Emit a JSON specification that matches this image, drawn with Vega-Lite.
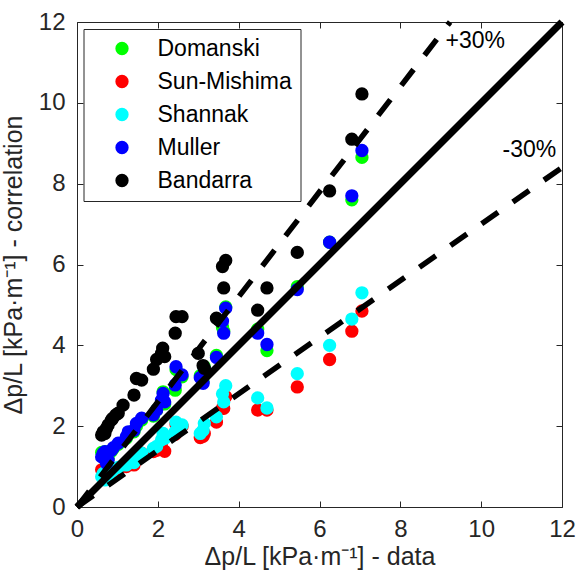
{
  "$schema": "https://vega.github.io/schema/vega-lite/v6.json",
  "width": 485,
  "height": 485,
  "autosize": "none",
  "padding": {"left": 77, "top": 22, "right": 25, "bottom": 67},
  "background": "white",
  "config": {"font": "Liberation Sans", "view": {"stroke": null}},
  "datasets": {
    "pts": [
      {"s":"Domanski","x":7.05,"y":8.65},{"s":"Domanski","x":6.8,"y":7.6},{"s":"Domanski","x":6.25,"y":6.55},{"s":"Domanski","x":5.45,"y":5.45},{"s":"Domanski","x":4.7,"y":3.87},{"s":"Domanski","x":4.47,"y":4.4},{"s":"Domanski","x":3.68,"y":4.95},{"s":"Domanski","x":3.6,"y":4.45},{"s":"Domanski","x":3.63,"y":4.35},{"s":"Domanski","x":3.45,"y":3.75},{"s":"Domanski","x":3.15,"y":3.47},{"s":"Domanski","x":3.05,"y":3.25},{"s":"Domanski","x":3.12,"y":3.1},{"s":"Domanski","x":2.45,"y":3.4},{"s":"Domanski","x":2.6,"y":3.22},{"s":"Domanski","x":2.43,"y":2.89},{"s":"Domanski","x":2.13,"y":2.85},{"s":"Domanski","x":2.09,"y":2.6},{"s":"Domanski","x":2.17,"y":2.55},{"s":"Domanski","x":1.97,"y":2.4},{"s":"Domanski","x":1.89,"y":2.25},{"s":"Domanski","x":1.6,"y":2.15},{"s":"Domanski","x":1.47,"y":2.0},{"s":"Domanski","x":1.41,"y":1.86},{"s":"Domanski","x":1.22,"y":1.7},{"s":"Domanski","x":1.27,"y":1.8},{"s":"Domanski","x":1.02,"y":1.55},{"s":"Domanski","x":0.9,"y":1.45},{"s":"Domanski","x":0.85,"y":1.38},{"s":"Domanski","x":0.77,"y":1.2},{"s":"Domanski","x":0.73,"y":1.1},{"s":"Domanski","x":0.65,"y":1.3},{"s":"Domanski","x":0.61,"y":1.35},{"s":"Domanski","x":0.69,"y":1.37},
      {"s":"Sun-Mishima","x":7.05,"y":4.85},{"s":"Sun-Mishima","x":6.8,"y":4.35},{"s":"Sun-Mishima","x":6.25,"y":3.65},{"s":"Sun-Mishima","x":5.45,"y":2.97},{"s":"Sun-Mishima","x":4.7,"y":2.4},{"s":"Sun-Mishima","x":4.47,"y":2.4},{"s":"Sun-Mishima","x":3.68,"y":2.73},{"s":"Sun-Mishima","x":3.6,"y":2.45},{"s":"Sun-Mishima","x":3.63,"y":2.44},{"s":"Sun-Mishima","x":3.45,"y":2.1},{"s":"Sun-Mishima","x":3.15,"y":1.82},{"s":"Sun-Mishima","x":3.05,"y":1.72},{"s":"Sun-Mishima","x":3.12,"y":1.75},{"s":"Sun-Mishima","x":2.45,"y":2.05},{"s":"Sun-Mishima","x":2.6,"y":2.0},{"s":"Sun-Mishima","x":2.43,"y":1.8},{"s":"Sun-Mishima","x":2.13,"y":1.7},{"s":"Sun-Mishima","x":2.09,"y":1.58},{"s":"Sun-Mishima","x":2.17,"y":1.38},{"s":"Sun-Mishima","x":1.97,"y":1.4},{"s":"Sun-Mishima","x":1.89,"y":1.37},{"s":"Sun-Mishima","x":1.6,"y":1.33},{"s":"Sun-Mishima","x":1.47,"y":1.16},{"s":"Sun-Mishima","x":1.41,"y":1.04},{"s":"Sun-Mishima","x":1.22,"y":1.0},{"s":"Sun-Mishima","x":1.27,"y":1.05},{"s":"Sun-Mishima","x":1.02,"y":0.95},{"s":"Sun-Mishima","x":0.9,"y":0.88},{"s":"Sun-Mishima","x":0.85,"y":0.85},{"s":"Sun-Mishima","x":0.77,"y":0.78},{"s":"Sun-Mishima","x":0.73,"y":0.77},{"s":"Sun-Mishima","x":0.65,"y":0.87},{"s":"Sun-Mishima","x":0.61,"y":0.92},{"s":"Sun-Mishima","x":0.69,"y":0.7},
      {"s":"Shannak","x":7.05,"y":5.3},{"s":"Shannak","x":6.8,"y":4.65},{"s":"Shannak","x":6.25,"y":4.0},{"s":"Shannak","x":5.45,"y":3.3},{"s":"Shannak","x":4.7,"y":2.45},{"s":"Shannak","x":4.47,"y":2.7},{"s":"Shannak","x":3.68,"y":3.0},{"s":"Shannak","x":3.6,"y":2.8},{"s":"Shannak","x":3.63,"y":2.6},{"s":"Shannak","x":3.45,"y":2.23},{"s":"Shannak","x":3.15,"y":2.07},{"s":"Shannak","x":3.05,"y":1.82},{"s":"Shannak","x":3.12,"y":1.9},{"s":"Shannak","x":2.45,"y":2.1},{"s":"Shannak","x":2.6,"y":2.03},{"s":"Shannak","x":2.43,"y":1.86},{"s":"Shannak","x":2.13,"y":1.82},{"s":"Shannak","x":2.09,"y":1.66},{"s":"Shannak","x":2.17,"y":1.7},{"s":"Shannak","x":1.97,"y":1.5},{"s":"Shannak","x":1.89,"y":1.45},{"s":"Shannak","x":1.6,"y":1.33},{"s":"Shannak","x":1.47,"y":1.2},{"s":"Shannak","x":1.41,"y":1.1},{"s":"Shannak","x":1.22,"y":1.04},{"s":"Shannak","x":1.27,"y":1.12},{"s":"Shannak","x":1.02,"y":0.98},{"s":"Shannak","x":0.9,"y":0.92},{"s":"Shannak","x":0.85,"y":0.88},{"s":"Shannak","x":0.77,"y":0.79},{"s":"Shannak","x":0.73,"y":0.83},{"s":"Shannak","x":0.65,"y":0.83},{"s":"Shannak","x":0.61,"y":0.75},{"s":"Shannak","x":0.69,"y":0.67},
      {"s":"Muller","x":7.05,"y":8.82},{"s":"Muller","x":6.8,"y":7.7},{"s":"Muller","x":6.25,"y":6.55},{"s":"Muller","x":5.45,"y":5.38},{"s":"Muller","x":4.7,"y":4.02},{"s":"Muller","x":4.47,"y":4.3},{"s":"Muller","x":3.68,"y":4.92},{"s":"Muller","x":3.6,"y":4.6},{"s":"Muller","x":3.63,"y":4.3},{"s":"Muller","x":3.45,"y":3.7},{"s":"Muller","x":3.15,"y":3.42},{"s":"Muller","x":3.05,"y":3.2},{"s":"Muller","x":3.12,"y":3.06},{"s":"Muller","x":2.45,"y":3.47},{"s":"Muller","x":2.6,"y":3.27},{"s":"Muller","x":2.43,"y":3.02},{"s":"Muller","x":2.13,"y":2.81},{"s":"Muller","x":2.09,"y":2.64},{"s":"Muller","x":2.17,"y":2.6},{"s":"Muller","x":1.97,"y":2.4},{"s":"Muller","x":1.89,"y":2.28},{"s":"Muller","x":1.6,"y":2.2},{"s":"Muller","x":1.47,"y":2.07},{"s":"Muller","x":1.41,"y":1.9},{"s":"Muller","x":1.22,"y":1.74},{"s":"Muller","x":1.27,"y":1.86},{"s":"Muller","x":1.02,"y":1.58},{"s":"Muller","x":0.9,"y":1.47},{"s":"Muller","x":0.85,"y":1.4},{"s":"Muller","x":0.77,"y":1.16},{"s":"Muller","x":0.73,"y":1.08},{"s":"Muller","x":0.65,"y":1.33},{"s":"Muller","x":0.61,"y":1.24},{"s":"Muller","x":0.69,"y":1.37},
      {"s":"Bandarra","x":7.05,"y":10.22},{"s":"Bandarra","x":6.8,"y":9.1},{"s":"Bandarra","x":6.25,"y":7.82},{"s":"Bandarra","x":5.45,"y":6.3},{"s":"Bandarra","x":4.7,"y":5.42},{"s":"Bandarra","x":4.47,"y":4.87},{"s":"Bandarra","x":3.68,"y":6.1},{"s":"Bandarra","x":3.6,"y":5.95},{"s":"Bandarra","x":3.63,"y":5.42},{"s":"Bandarra","x":3.45,"y":4.67},{"s":"Bandarra","x":3.15,"y":3.43},{"s":"Bandarra","x":3.0,"y":3.8},{"s":"Bandarra","x":3.12,"y":3.5},{"s":"Bandarra","x":2.45,"y":4.71},{"s":"Bandarra","x":2.6,"y":4.71},{"s":"Bandarra","x":2.43,"y":4.3},{"s":"Bandarra","x":2.12,"y":3.93},{"s":"Bandarra","x":2.09,"y":3.8},{"s":"Bandarra","x":2.17,"y":3.72},{"s":"Bandarra","x":1.97,"y":3.65},{"s":"Bandarra","x":1.89,"y":3.41},{"s":"Bandarra","x":1.6,"y":3.14},{"s":"Bandarra","x":1.47,"y":3.18},{"s":"Bandarra","x":1.41,"y":2.77},{"s":"Bandarra","x":1.14,"y":2.52},{"s":"Bandarra","x":1.02,"y":2.32},{"s":"Bandarra","x":0.96,"y":2.28},{"s":"Bandarra","x":0.88,"y":2.19},{"s":"Bandarra","x":0.85,"y":2.15},{"s":"Bandarra","x":0.77,"y":2.03},{"s":"Bandarra","x":0.73,"y":1.95},{"s":"Bandarra","x":0.65,"y":1.86},{"s":"Bandarra","x":0.61,"y":1.78},{"s":"Bandarra","x":0.69,"y":1.82}
    ],
    "lines": [
      {"k":"eq","x":0,"y":0},{"k":"eq","x":12,"y":12},
      {"k":"plus","x":0,"y":0},{"k":"plus","x":9.2308,"y":12},
      {"k":"minus","x":0,"y":0},{"k":"minus","x":12,"y":8.4}
    ],
    "labels": [
      {"t":"+30%","x":9.12,"y":11.53},
      {"t":"-30%","x":10.53,"y":8.83}
    ]
  },
  "layer": [
    {
      "data": {"name": "pts"},
      "mark": {"type": "point", "shape": "circle", "filled": true, "opacity": 1, "strokeWidth": 0},
      "encoding": {
        "x": {"field": "x", "type": "quantitative", "scale": {"domain": [0, 12], "nice": false},
          "axis": {"orient": "bottom", "values": [0,2,4,6,8,10,12], "grid": false, "tickSize": -6, "labelPadding": 16, "labelFlush": false, "labelFontSize": 24, "labelColor": "#262626", "domainColor": "#262626", "tickColor": "#262626", "title": "Δp/L [kPa·m⁻¹] - data", "titleFontSize": 25, "titleFontWeight": "normal", "titleColor": "#262626", "titlePadding": 3}},
        "y": {"field": "y", "type": "quantitative", "scale": {"domain": [0, 12], "nice": false},
          "axis": {"orient": "left", "values": [0,2,4,6,8,10,12], "grid": false, "tickSize": -6, "labelPadding": 18, "labelFlush": false, "labelFontSize": 24, "labelColor": "#262626", "domainColor": "#262626", "tickColor": "#262626", "title": "Δp/L [kPa·m⁻¹] - correlation", "titleFontSize": 25, "titleFontWeight": "normal", "titleColor": "#262626", "titlePadding": 12}},
        "color": {"field": "s", "type": "nominal", "sort": null,
          "scale": {"domain": ["Domanski","Sun-Mishima","Shannak","Muller","Bandarra"], "range": ["#00ff00","#ff0000","#00ffff","#0000ff","#000000"]},
          "legend": {"orient": "none", "legendX": 6.5, "legendY": 7, "title": null, "labelFontSize": 23, "labelColor": "#000000", "strokeColor": "#262626", "fillColor": "white", "padding": 8, "rowPadding": 9, "symbolOffset": 19, "labelOffset": 24, "symbolStrokeWidth": 0, "symbolType": "circle", "labelLimit": 400}},
        "size": {"field": "s", "type": "nominal", "sort": null,
          "scale": {"domain": ["Domanski","Sun-Mishima","Shannak","Muller","Bandarra"], "range": [177,177,121,100,110]},
          "legend": {"orient": "none", "legendX": 6.5, "legendY": 7, "title": null, "labelFontSize": 23, "labelColor": "#000000", "strokeColor": "#262626", "fillColor": "white", "padding": 8, "rowPadding": 9, "symbolOffset": 19, "labelOffset": 24, "symbolStrokeWidth": 0, "symbolType": "circle", "labelLimit": 400}}
      }
    },
    {
      "data": {"name": "lines"},
      "transform": [{"filter": "datum.k == 'eq'"}],
      "mark": {"type": "line", "color": "black", "strokeWidth": 7, "strokeCap": "butt"},
      "encoding": {
        "x": {"field": "x", "type": "quantitative",
          "axis": {"orient": "top", "values": [0,2,4,6,8,10,12], "grid": false, "tickSize": -6, "labels": false, "title": null, "domainColor": "#262626", "tickColor": "#262626"}},
        "y": {"field": "y", "type": "quantitative",
          "axis": {"orient": "right", "values": [0,2,4,6,8,10,12], "grid": false, "tickSize": -6, "labels": false, "title": null, "domainColor": "#262626", "tickColor": "#262626"}}
      }
    },
    {
      "data": {"name": "lines"},
      "transform": [{"filter": "datum.k != 'eq'"}],
      "mark": {"type": "line", "color": "black", "strokeWidth": 5.5, "strokeCap": "butt", "strokeDash": [20, 18]},
      "encoding": {
        "x": {"field": "x", "type": "quantitative", "axis": null},
        "y": {"field": "y", "type": "quantitative", "axis": null},
        "detail": {"field": "k"}
      }
    },
    {
      "data": {"name": "labels"},
      "mark": {"type": "text", "align": "left", "baseline": "middle", "fontSize": 23, "color": "black"},
      "encoding": {
        "x": {"field": "x", "type": "quantitative", "axis": null},
        "y": {"field": "y", "type": "quantitative", "axis": null},
        "text": {"field": "t"}
      }
    }
  ],
  "resolve": {"axis": {"x": "independent", "y": "independent"}}
}
